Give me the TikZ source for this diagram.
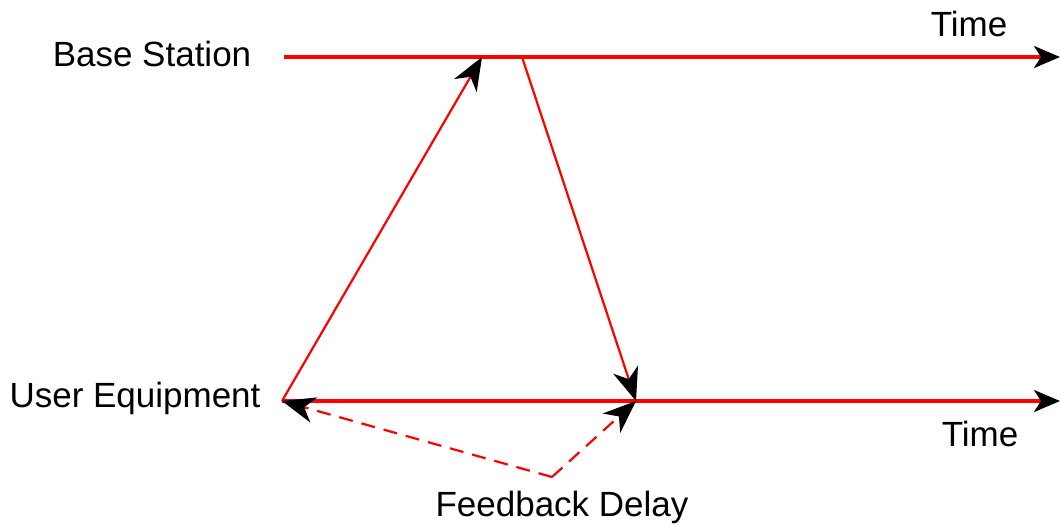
\documentclass[tikz,border=0pt]{standalone}
\usepackage{fontspec}
\setmainfont{Liberation Sans}
\usetikzlibrary{arrows.meta}
\begin{document}
\begin{tikzpicture}[x=1pt,y=-1pt,
  lbl/.style={font=\fontsize{35}{40}\selectfont, inner sep=0pt},
  timeline/.style={draw=red, line width=3.5pt, -{Stealth[length=26pt,width=22pt,inset=7pt,black]}},
  signal/.style={draw=red, line width=2.2pt, -{Stealth[length=33pt,width=26pt,inset=10pt,black]}},
  delay/.style={draw=red, line width=2.2pt, dash pattern=on 14pt off 9pt, -{Stealth[length=33pt,width=26pt,inset=10pt,black]}}]
\useasboundingbox (0,0) rectangle (1060,527);
% time axes
\coordinate (bsStart) at (284,57);
\coordinate (bsEnd) at (1060,57);
\coordinate (ueStart) at (282,401);
\coordinate (ueEnd) at (1060,401);
\coordinate (bsRx) at (482,57);
\coordinate (bsTx) at (522,57);
\coordinate (ueRx) at (636,401);
\coordinate (bend) at (552,477);
\draw[timeline] (bsStart) -- (bsEnd);
\draw[timeline] (ueStart) -- (ueEnd);
% uplink and downlink messages
\draw[signal] (ueStart) -- (bsRx);
\draw[signal] (bsTx) -- (ueRx);
% feedback delay bracket
\draw[delay] (bend) -- (ueStart);
\draw[delay] (bend) -- (ueRx);
% labels
\node[lbl] (bs) at (152,54) {Base Station};
\node[lbl] (ue) at (135,398) {User Equipment};
\node[lbl] (t1) at (969,24) {Time};
\node[lbl] (t2) at (980,434) {Time};
\node[lbl] (fd) at (562,507) {Feedback Delay};
\end{tikzpicture}
\end{document}
